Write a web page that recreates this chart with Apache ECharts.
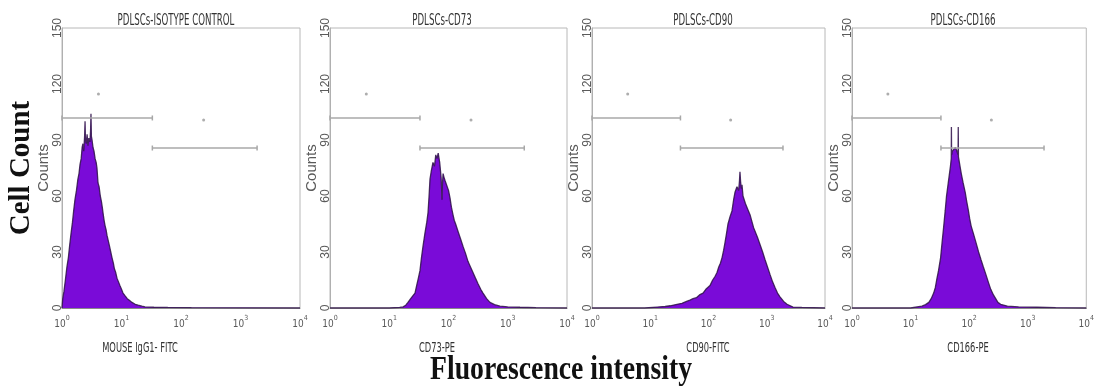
<!DOCTYPE html>
<html>
<head>
<meta charset="utf-8">
<script src="https://cdn.jsdelivr.net/npm/echarts@6/dist/echarts.min.js"></script>
<style>
  html, body { margin: 0; padding: 0; background: #ffffff; }
  #chart { width: 1097px; height: 390px; }
</style>
</head>
<body>
<div id="chart"></div>
<script>
// ---------- data ----------
const panelTitles = ['PDLSCs-ISOTYPE CONTROL', 'PDLSCs-CD73', 'PDLSCs-CD90', 'PDLSCs-CD166'];
const markerNames = ['MOUSE IgG1- FITC', 'CD73-PE', 'CD90-FITC', 'CD166-PE'];
const xExpLabels = ['0', '1', '2', '3', '4'];
const yTickMin = 0, yTickMax = 150, yTickStep = 30;
const yAxisName = 'Counts';
const bigYLabel = 'Cell Count';
const bigXLabel = 'Fluorescence intensity';

// histograms: [fluorescence, cell count]
const isotypeHist = [[1.0,0],[1.03,5],[1.08,9],[1.14,15],[1.21,22],[1.28,27],[1.35,34],[1.42,40],[1.5,46],[1.57,52],[1.65,58],[1.75,63],[1.85,69],[1.93,72],[2.01,77],[2.1,80],[2.18,86],[2.25,88],[2.32,84],[2.4,92],[2.44,100],[2.48,90],[2.56,88],[2.64,93],[2.73,87],[2.82,91],[2.95,89],[3.02,95],[3.07,104],[3.12,92],[3.2,90],[3.32,86],[3.45,84],[3.6,80],[3.75,78],[3.87,75],[4.03,67],[4.2,65],[4.4,60],[4.6,57],[4.75,54],[4.89,51],[5.1,47],[5.3,44],[5.5,42],[5.7,39],[6.0,36],[6.3,33],[6.6,30],[6.92,27],[7.3,24],[7.6,21],[8.0,19],[8.4,16],[8.9,14],[9.4,12],[10.0,10],[10.6,8],[11.5,6.5],[12.5,5],[13.7,4],[15,3],[17,2],[19,1.5],[22,1],[24.8,0.6],[35,0.4],[60,0.3],[150,0.2],[1000,0.1],[10000,0]];
const cd73Hist = [[1,0],[10,0],[15,0.3],[17.1,0.6],[19,1.5],[20.7,3],[23,5],[25,6.5],[27.2,8],[29,12],[31,16],[33,20],[35,27],[37.1,33],[40,40],[43,46],[45.1,51],[47,60],[48.7,69],[51,73],[54.7,78],[58,76],[61,82],[64,80],[67,83],[69.2,84],[71,78],[73,74],[75,70],[76.5,64],[77.6,58],[79,66],[81,72],[84,70],[88,68],[94.3,67],[100,63],[106,59],[112,54],[119,50],[125,47],[132,45],[145,41],[160,37],[176,33],[195,29],[213,25],[235,22],[259,19],[285,16],[315,13],[350,10],[382,8],[440,5],[501,3],[600,1.8],[740,1],[1000,0.6],[1610,0.4],[3000,0.2],[10000,0]];
const cd90Hist = [[1,0],[8,0],[13.1,0.5],[18,0.8],[22,1.2],[28.8,2],[35,2.5],[42,3.5],[48,4.2],[54.2,5],[62,5.5],[70,7],[80.5,8],[90,10],[106,12],[118,15],[130,17],[140,19],[150,22],[160,24],[171,27],[182,31],[192,35],[204,40],[216,45],[235,49],[253,52],[270,58],[285,62],[298,61],[308,65],[320,66],[330,63],[340,68],[347,73],[355,68],[365,64],[376,66],[391,60],[410,58],[430,56],[458,55],[485,52],[516,50],[560,46],[595,43],[628,42],[690,38],[766,34],[850,30],[933,26],[1030,22],[1137,18],[1260,14],[1386,11],[1530,8],[1688,6],[1950,3.5],[2228,2],[2824,0.5],[4000,0.3],[10000,0]];
const cd166Hist = [[1,0],[10,0],[15.6,1],[18,1.8],[20.5,3],[22.5,5],[24.8,8],[26.5,11],[27.9,15],[30,20],[32.6,27],[34.5,35],[36.6,43],[39,52],[41.1,60],[44,67],[48,76],[49.5,80],[49.8,97],[50.2,82],[51.8,84],[55,85],[58.2,86],[62,84],[64.7,82],[65.2,97],[65.7,81],[69,77],[73.4,72],[79,67],[85.7,62],[91,57],[96.2,53],[102,48],[108,44],[118,40],[131,35],[145,30],[159,26],[175,22],[193,18],[212,14],[234,10],[260,7],[284,5],[310,3],[345,2],[450,1],[700,0.6],[1444,0.4],[3000,0.2],[10000,0]];

// gate markers (same for every panel)
const gateM1 = [[1, 101.8], [33, 101.8]];
const gateM2 = [[33, 85.7], [1900, 85.7]];
const gateDots = [[4.1, 114.6], [240, 100.7]];

// ---------- layout ----------
const grids = [
  { left: 62, top: 28, width: 238, height: 280 },
  { left: 330, top: 28, width: 237, height: 280 },
  { left: 592, top: 28, width: 233, height: 280 },
  { left: 852, top: 28, width: 238, height: 280 }
];
const titleX = [176, 442, 703, 963];
const nameX = [140, 437, 708, 968];
const hists = [isotypeHist, cd73Hist, cd90Hist, cd166Hist];

const fillColor = '#7a0bd8';
const edgeColor = '#2e1048';
const gateColor = '#a8a8a8';
const textGray = '#5a5a5a';
const narrowFont = '"Liberation Sans Narrow", "DejaVu Sans Condensed", sans-serif';

const xAxes = [], yAxes = [], series = [], graphics = [];
grids.forEach((g, i) => {
  xAxes.push({
    type: 'log', logBase: 10, min: 1, max: 10000, gridIndex: i,
    axisLine: { show: true, lineStyle: { color: '#8a8a8a', width: 1 } },
    axisTick: { show: false }, splitLine: { show: false }, minorTick: { show: false },
    axisLabel: {
      show: true, margin: 7, showMinLabel: true, showMaxLabel: true,
      color: textGray, fontFamily: narrowFont, fontSize: 10,
      formatter: v => '{b|10}{s|' + xExpLabels[Math.round(Math.log10(v))] + '}',
      rich: {
        b: { fontSize: 10, fontFamily: narrowFont, color: textGray, verticalAlign: 'bottom', lineHeight: 14 },
        s: { fontSize: 7, fontFamily: narrowFont, color: textGray, verticalAlign: 'top', lineHeight: 8 }
      }
    }
  });
  yAxes.push({
    type: 'value', min: yTickMin, max: yTickMax, interval: yTickStep, gridIndex: i,
    name: yAxisName, nameLocation: 'middle', nameRotate: 90, nameGap: 10,
    nameTextStyle: { color: textGray, fontSize: 15, fontFamily: 'Liberation Sans, Arial, sans-serif' },
    axisLine: { show: true, lineStyle: { color: '#b0b0b0' } },
    axisTick: { show: false }, splitLine: { show: false },
    axisLabel: { rotate: 90, margin: -2, fontSize: 12, color: textGray, fontFamily: 'Liberation Sans, Arial, sans-serif' }
  });
  series.push({
    type: 'line', xAxisIndex: i, yAxisIndex: i, data: hists[i],
    symbol: 'none', showSymbol: false, smooth: false, animation: false,
    lineStyle: { color: edgeColor, width: 1.3, opacity: 0.85 },
    areaStyle: { color: fillColor, opacity: 1 },
    z: 3
  });
  [gateM1, gateM2].forEach(gate => {
    series.push({
      type: 'line', xAxisIndex: i, yAxisIndex: i, data: gate,
      symbol: 'rect', symbolSize: [1.5, 5], showSymbol: true, animation: false,
      lineStyle: { color: gateColor, width: 1.5 }, itemStyle: { color: gateColor },
      z: 4
    });
  });
  series.push({
    type: 'scatter', xAxisIndex: i, yAxisIndex: i, data: gateDots,
    symbol: 'circle', symbolSize: 3, itemStyle: { color: '#999' }, animation: false, z: 4
  });
  graphics.push({
    type: 'text', x: titleX[i], y: 21, scaleX: 0.6,
    style: { text: panelTitles[i], font: '16px ' + narrowFont, fill: '#333', textAlign: 'center', textVerticalAlign: 'middle' }
  });
  graphics.push({
    type: 'text', x: nameX[i], y: 348, scaleX: 0.66,
    style: { text: markerNames[i], font: '14px ' + narrowFont, fill: '#333', textAlign: 'center', textVerticalAlign: 'middle' }
  });
});

graphics.push({
  type: 'text', x: 22, y: 168, rotation: Math.PI / 2,
  style: { text: bigYLabel, font: 'bold 29px "Liberation Serif", "Times New Roman", serif', fill: '#111', textAlign: 'center', textVerticalAlign: 'middle' }
});
graphics.push({
  type: 'text', x: 561, y: 370, scaleX: 0.84,
  style: { text: bigXLabel, font: 'bold 33px "Liberation Serif", "Times New Roman", serif', fill: '#111', textAlign: 'center', textVerticalAlign: 'middle' }
});

const chart = echarts.init(document.getElementById('chart'), null, { renderer: 'canvas' });
chart.setOption({
  backgroundColor: '#ffffff',
  animation: false,
  grid: grids.map(g => Object.assign({ show: true, borderColor: '#b8b8b8', borderWidth: 1, containLabel: false }, g)),
  xAxis: xAxes,
  yAxis: yAxes,
  series: series,
  graphic: { elements: graphics }
});
</script>
</body>
</html>
